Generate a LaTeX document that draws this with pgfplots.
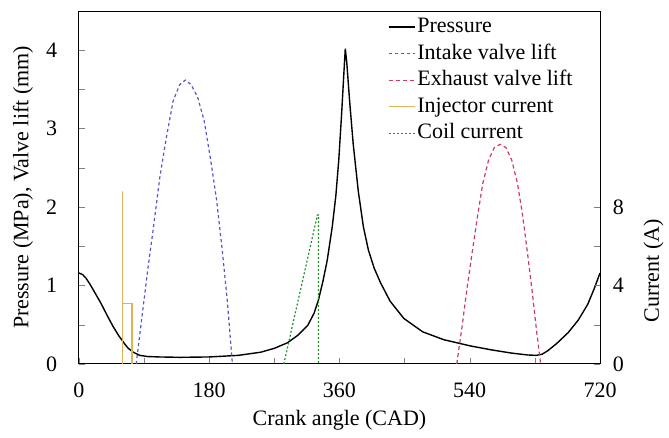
\documentclass[border=0pt]{standalone}
\usepackage{fontspec}
\setmainfont{Liberation Serif}
\usepackage{pgfplots}
\pgfplotsset{compat=1.18}
\definecolor{cint}{RGB}{85,85,205}
\definecolor{cexh}{RGB}{205,60,95}
\definecolor{cinj}{RGB}{220,180,80}
\definecolor{ccoil}{RGB}{40,140,40}
\begin{document}
\fontsize{11}{13}\selectfont
\begin{tikzpicture}
\pgfplotsset{every axis/.append style={
  scale only axis, width=260.5pt, height=176.5pt,
  xmin=0, xmax=720,
  font=\fontsize{11}{13}\selectfont,
  tick align=inside, major tick length=3pt, minor tick length=3pt,
  /pgf/number format/assume math mode=true,
  line width=0.5pt}}
\begin{axis}[
  name=main,
  ymin=0, ymax=4.5,
  xtick={0,180,360,540,720}, minor xtick={90,270,450,630},
  ytick={0,1,2,3,4}, minor ytick={0.5,1.5,2.5,3.5},
  xtick pos=bottom, ytick pos=left,
  xticklabel style={yshift=-5.5pt},
  yticklabel style={xshift=-7pt},
  xlabel={Crank angle (CAD)},
  ylabel={Pressure (MPa), Valve lift (mm)},
  xlabel style={at={(axis description cs:0.5,0)}, anchor=center, yshift=-28pt},
  ylabel style={at={(axis description cs:-0.1075,0.5)}, anchor=center},
  legend cell align=left,
  legend style={at={(axis description cs:0.592,1)}, anchor=north west, yshift=-1.5pt,
    draw=none, fill=none, inner xsep=0pt, inner ysep=0pt, row sep=0.8pt,
    nodes={text height=8pt, text depth=2.5pt, inner sep=1pt, font=\fontsize{11}{13}\selectfont}},
  legend image code/.code={\draw[#1] (0pt,0pt) -- (13pt,0pt);},
]
\addplot[black, line width=0.7pt] coordinates {
(0,1.16)(5,1.14)(10,1.09)(15,1.02)(20,0.94)(25,0.86)(30,0.78)(35,0.69)(40,0.60)(47,0.48)(55,0.36)
(62,0.27)(68,0.20)(75,0.15)(84,0.11)(95,0.095)(110,0.09)(140,0.085)(181,0.09)(220,0.11)
(251,0.15)(270,0.20)(288,0.27)(303,0.37)(316,0.49)(325,0.65)(331,0.82)(337,1.05)(343,1.32)
(350,1.75)(355,2.15)(359,2.6)(363,3.2)(366,3.7)(368,4.02)(370,3.85)(374,3.35)(379,2.8)
(386,2.2)(393,1.75)(400,1.45)(408,1.22)(417,1.03)(430,0.80)(449,0.58)(475,0.41)(504,0.31)
(541,0.23)(570,0.18)(597,0.14)(620,0.115)(632,0.11)(640,0.125)(648,0.17)(660,0.26)
(676,0.40)(690,0.56)(703,0.76)(712,0.96)(720,1.16)};
\addlegendentry{Pressure}
\addplot[cint, line width=0.6pt, dash pattern=on 1.6pt off 1.4pt] coordinates {
(79,0)(87,0.6)(95,1.2)(103,1.75)(112,2.4)(121,2.9)(130,3.35)(139,3.56)(147,3.62)
(155,3.56)(164,3.4)(173,3.1)(182,2.6)(190,2.1)(198,1.45)(205,0.8)(212,0)};
\addlegendentry{Intake valve lift}
\addplot[cexh, line width=0.6pt, dash pattern=on 2pt off 1.5pt] coordinates {
(522,0)(529,0.45)(536,0.95)(543,1.4)(551,1.9)(558,2.3)(566,2.6)(574,2.76)(582,2.8)
(590,2.76)(598,2.6)(606,2.3)(613,1.9)(620,1.4)(626,0.95)(632,0.45)(638,0)};
\addlegendentry{Exhaust valve lift}
\addlegendimage{cinj, line width=0.6pt}
\addlegendentry{Injector current}
\addlegendimage{ccoil, line width=0.6pt, dash pattern=on 1pt off 1pt}
\addlegendentry{Coil current}
\end{axis}
\begin{axis}[
  ymin=0, ymax=18,
  axis x line=none, axis y line*=right,
  ytick={0,4,8}, minor ytick={2,6},
  yticklabel style={xshift=2.5pt},
  ylabel={Current (A)},
  ylabel style={at={(axis description cs:1.103,0.264)}, anchor=center},
]
\addplot[cinj, line width=0.7pt] coordinates {(60.5,0)(60.5,8.8)(60.5,3.1)(73,3.1)(73,0)};
\addplot[ccoil, line width=0.6pt, dash pattern=on 1pt off 1pt] coordinates {(283,0)(329.5,7.6)(331,7.6)(331,0)};
\end{axis}
\pgfresetboundingbox
\path ([xshift=-39.5pt,yshift=-37pt]main.south west) rectangle ([xshift=34.5pt,yshift=5.5pt]main.north east);
\end{tikzpicture}
\end{document}
